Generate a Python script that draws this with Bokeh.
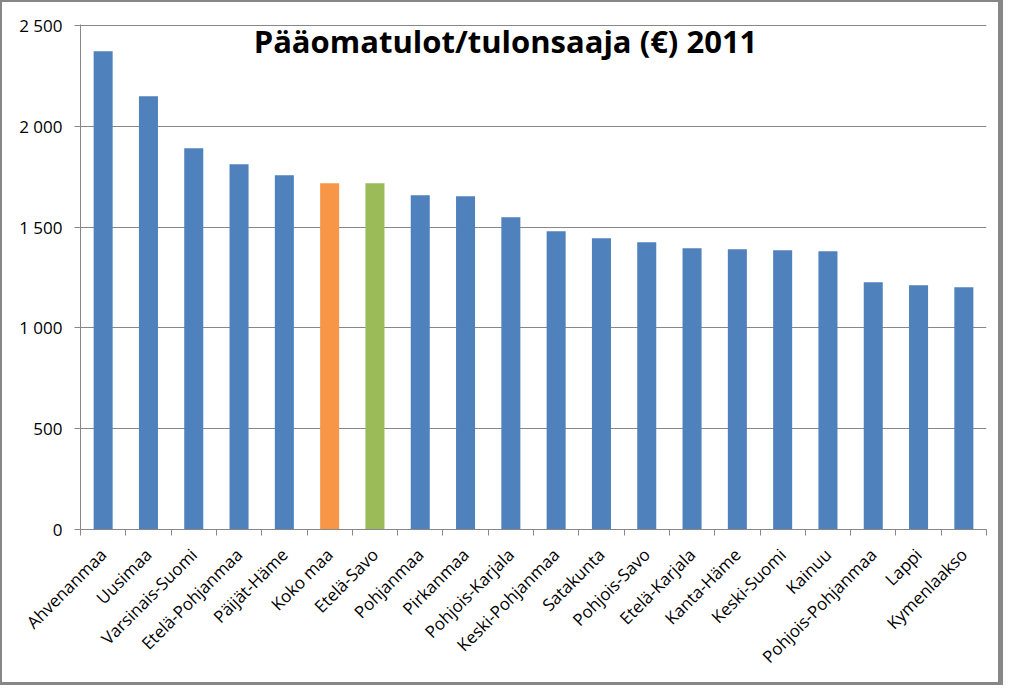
from bokeh.plotting import figure
from bokeh.models import FixedTicker, Label, ColumnDataSource, Range1d
from bokeh.embed import file_html
from bokeh.resources import INLINE
import math

regions = ["Ahvenanmaa", "Uusimaa", "Varsinais-Suomi", "Etelä-Pohjanmaa", "Päijät-Häme",
           "Koko maa", "Etelä-Savo", "Pohjanmaa", "Pirkanmaa", "Pohjois-Karjala",
           "Keski-Pohjanmaa", "Satakunta", "Pohjois-Savo", "Etelä-Karjala", "Kanta-Häme",
           "Keski-Suomi", "Kainuu", "Pohjois-Pohjanmaa", "Lappi", "Kymenlaakso"]
values = [2372, 2149, 1891, 1812, 1757, 1718, 1718, 1658, 1653, 1549,
          1480, 1445, 1425, 1395, 1390, 1385, 1380, 1227, 1212, 1202]
colors = ["#4F81BD"] * 5 + ["#F79646", "#9BBB59"] + ["#4F81BD"] * 13
y_ticks = [0, 500, 1000, 1500, 2000, 2500]
y_tick_labels = ["0", "500", "1 000", "1 500", "2 000", "2 500"]
title_text = "Pääomatulot/tulonsaaja (€) 2011"

FONT = "Open Sans"
GRAY = "#878787"

n = len(regions)
centers = [i + 0.5 for i in range(n)]
src = ColumnDataSource(dict(x=centers, top=values, color=colors))

p = figure(width=1003, height=685, output_backend="svg", toolbar_location=None,
           x_range=Range1d(0, n), y_range=Range1d(0, 2505),
           min_border_left=78, min_border_right=19, min_border_top=22, min_border_bottom=158)
p.styles = {"border-left": f"2px solid {GRAY}", "border-top": f"2px solid {GRAY}",
            "border-right": f"5px solid {GRAY}", "border-bottom": f"3px solid {GRAY}"}
p.outline_line_color = None
p.background_fill_color = "white"
p.border_fill_color = "white"

p.vbar(x="x", top="top", width=0.42, bottom=0, color="color", line_color=None, source=src)

# y axis
p.yaxis.ticker = FixedTicker(ticks=y_ticks, minor_ticks=[])
p.yaxis.major_label_overrides = {t: l for t, l in zip(y_ticks, y_tick_labels)}
p.yaxis.axis_line_color = GRAY
p.yaxis.major_tick_line_color = GRAY
p.yaxis.major_tick_in = 0
p.yaxis.major_tick_out = 6
p.yaxis.minor_tick_line_color = None
p.yaxis.major_label_standoff = 12
p.yaxis.major_label_text_font = FONT
p.yaxis.major_label_text_font_size = "17px"
p.yaxis.major_label_text_color = "black"

# x axis
p.xaxis.ticker = FixedTicker(ticks=centers, minor_ticks=list(range(n + 1)))
p.xaxis.major_label_overrides = {c: r for c, r in zip(centers, regions)}
p.xaxis.major_label_orientation = math.pi / 4
p.xaxis.axis_line_color = GRAY
p.xaxis.major_tick_line_color = None
p.xaxis.minor_tick_line_color = GRAY
p.xaxis.minor_tick_in = 0
p.xaxis.minor_tick_out = 6
p.xaxis.major_label_standoff = 16
p.xaxis.major_label_text_font = FONT
p.xaxis.major_label_text_font_size = "17px"
p.xaxis.major_label_text_color = "black"

p.xgrid.grid_line_color = None
p.ygrid.ticker = FixedTicker(ticks=y_ticks)
p.ygrid.grid_line_color = GRAY
p.ygrid.grid_line_width = 1

title = Label(x=425, y=489, x_units="screen", y_units="screen",
              text=title_text, text_font=FONT, text_font_style="bold",
              text_font_size="31px", text_color="black", text_align="center",
              text_baseline="alphabetic")
p.add_layout(title)

open("out.html", "w").write(file_html(p, INLINE))
